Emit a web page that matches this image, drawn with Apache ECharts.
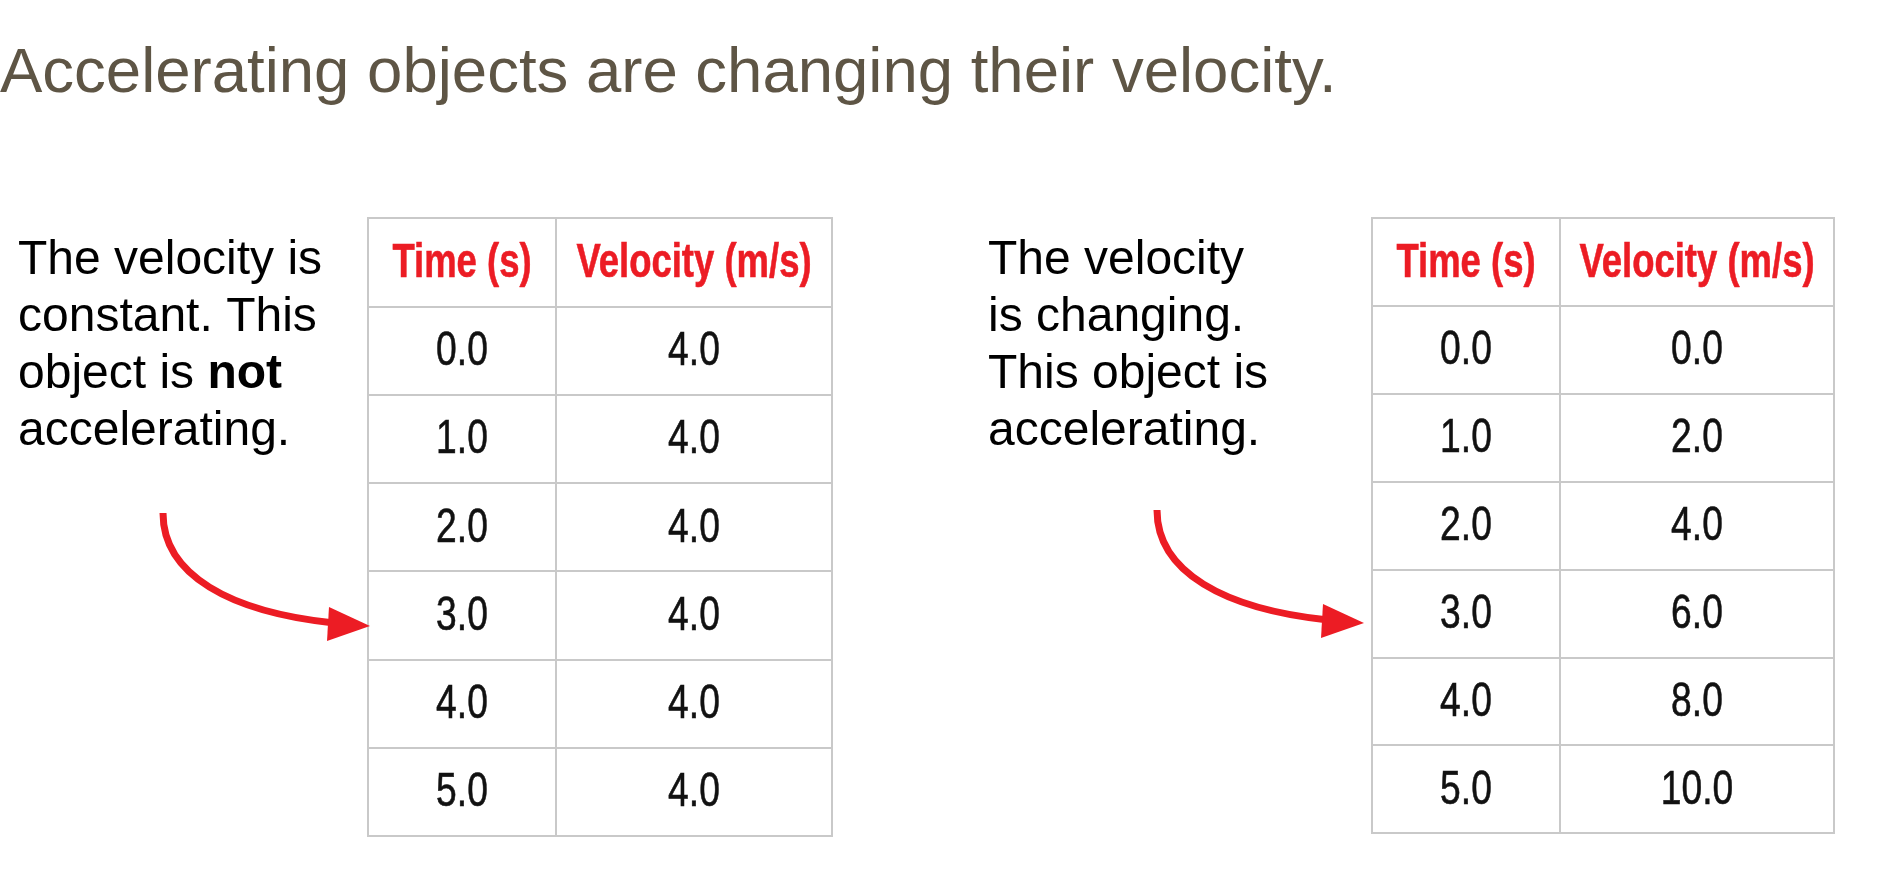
<!DOCTYPE html>
<html>
<head>
<meta charset="utf-8">
<title>Accelerating objects</title>
<script src="https://cdn.jsdelivr.net/npm/echarts@6/dist/echarts.min.js"></script>
<style>
  html, body { margin: 0; padding: 0; background: #fff; }
  #chart { width: 1880px; height: 896px; }
</style>
</head>
<body>
<div id="chart"></div>
<script>
// table data
const columnHeaders = ['Time (s)', 'Velocity (m/s)']
const timeValues = [0.0, 1.0, 2.0, 3.0, 4.0, 5.0]
const velocityConstant = [4.0, 4.0, 4.0, 4.0, 4.0, 4.0]
const velocityChanging = [0.0, 2.0, 4.0, 6.0, 8.0, 10.0]
const rowLabels = ['header', '0', '1', '2', '3', '4', '5']

const red = '#ec1c24'
const gridLine = '#c9c9c9'
const bodyFont = 'Liberation Sans, Arial, Helvetica, sans-serif'

const chart = echarts.init(document.getElementById('chart'))

// one grid per column so the two columns can have different widths
const tableGrids = [
  { left: 368, top: 218, width: 188, height: 618 },
  { left: 556, top: 218, width: 276, height: 618 },
  { left: 1372, top: 218, width: 188, height: 615 },
  { left: 1560, top: 218, width: 274, height: 615 }
]

const columns = [
  { header: columnHeaders[0], values: timeValues },
  { header: columnHeaders[1], values: velocityConstant },
  { header: columnHeaders[0], values: timeValues },
  { header: columnHeaders[1], values: velocityChanging }
]

// cell text: no narrow font installed, so squeeze the text horizontally
const cellSeries = columns.map((col, i) => {
  const texts = [col.header, ...col.values.map((v) => v.toFixed(1))]
  return {
    type: 'custom',
    xAxisIndex: i,
    yAxisIndex: i,
    silent: true,
    data: texts.map((t, r) => [0, r]),
    renderItem: (params, api) => {
      const pt = api.coord([api.value(0), api.value(1)])
      const isHeader = params.dataIndex === 0
      return {
        type: 'text',
        x: pt[0],
        y: pt[1] + (isHeader ? 2 : 1),
        scaleX: 0.76,
        style: {
          text: texts[params.dataIndex],
          font: isHeader ? 'bold 48px ' + bodyFont : '49px ' + bodyFont,
          fill: isHeader ? red : '#111',
          stroke: isHeader ? red : '#111',
          lineWidth: 0.6,
          align: 'center',
          verticalAlign: 'middle'
        }
      }
    }
  }
})

const bodyText = (x, lines) => ({
  type: 'text',
  x,
  y: 232,
  style: {
    text: lines.join('\n'),
    font: '48px ' + bodyFont,
    fill: '#000',
    lineHeight: 57,
    verticalAlign: 'top',
    rich: {
      b: { font: 'bold 48px ' + bodyFont, fill: '#000', lineHeight: 57 }
    }
  }
})

const arrow = (dx, dy) => [
  {
    type: 'bezierCurve',
    shape: {
      x1: 163 + dx, y1: 513 + dy,
      cpx1: 163 + dx, cpy1: 575 + dy,
      cpx2: 230 + dx, cpy2: 612 + dy,
      x2: 334 + dx, y2: 623 + dy
    },
    style: { stroke: red, lineWidth: 7, fill: null }
  },
  {
    type: 'polygon',
    shape: { points: [[370 + dx, 626 + dy], [329 + dx, 607 + dy], [327 + dx, 641 + dy]] },
    style: { fill: red }
  }
]

chart.setOption({
  backgroundColor: '#fff',
  animation: false,
  grid: tableGrids.map((g) => ({
    ...g,
    show: true,
    backgroundColor: '#fff',
    borderColor: gridLine,
    borderWidth: 2
  })),
  xAxis: tableGrids.map((g, i) => ({
    type: 'category',
    gridIndex: i,
    data: [columns[i].header],
    show: false
  })),
  yAxis: tableGrids.map((g, i) => ({
    type: 'category',
    gridIndex: i,
    data: rowLabels,
    inverse: true,
    axisLine: { show: false },
    axisTick: { show: false },
    axisLabel: { show: false },
    splitLine: { show: true, interval: 0, lineStyle: { color: gridLine, width: 2 } }
  })),
  series: cellSeries,
  graphic: [
    {
      type: 'text',
      x: 0,
      y: 74,
      style: {
        text: 'Accelerating objects are changing their velocity.',
        font: '63.5px ' + bodyFont,
        fill: '#5e5545',
        verticalAlign: 'middle'
      }
    },
    bodyText(18, ['The velocity is', 'constant. This', 'object is {b|not}', 'accelerating.']),
    bodyText(988, ['The velocity', 'is changing.', 'This object is', 'accelerating.']),
    ...arrow(0, 0),
    ...arrow(994, -3)
  ]
})

window.addEventListener('resize', () => chart.resize())
</script>
</body>
</html>
